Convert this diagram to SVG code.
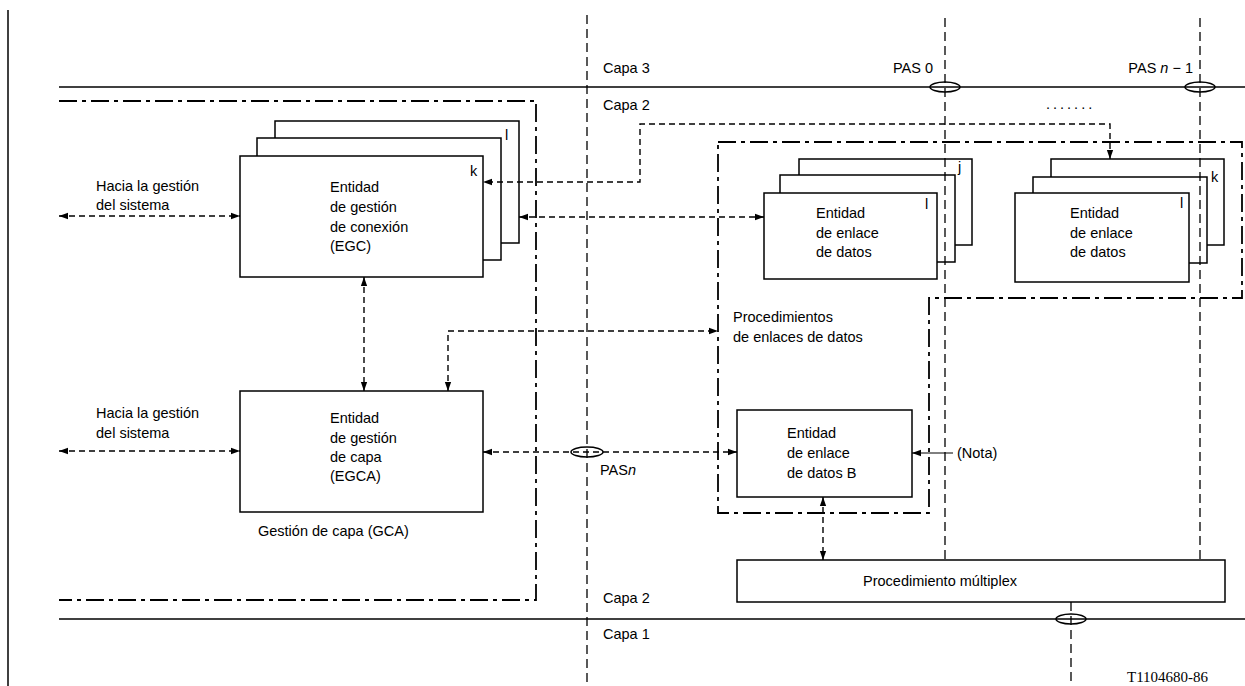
<svg xmlns="http://www.w3.org/2000/svg" width="1245" height="686" viewBox="0 0 1245 686">
<defs>
<marker id="ah" viewBox="0 0 10 10" refX="10" refY="5" markerWidth="9" markerHeight="9" markerUnits="userSpaceOnUse" orient="auto-start-reverse"><path d="M0,1.5 L10,5 L0,8.5 z" fill="#000"/></marker>
<style>
.t{font-family:"Liberation Sans",Arial,sans-serif;font-size:14.5px;fill:#000}
.box{fill:#fff;stroke:#000;stroke-width:1.5}
.solid{stroke:#000;stroke-width:1.5;fill:none}
.dash{stroke:#000;stroke-width:1.3;fill:none;stroke-dasharray:9 5}
.conn{stroke:#000;stroke-width:1.4;fill:none;stroke-dasharray:6 4}
.dd{stroke:#000;stroke-width:1.8;fill:none;stroke-dasharray:18 5 4 5}
.ell{fill:none;stroke:#000;stroke-width:1.5}
</style>
</defs>
<rect width="1245" height="686" fill="#fff"/>

<g id="layers">
<line x1="8" y1="10" x2="8" y2="686" class="solid"/>
<line x1="59" y1="87" x2="1245" y2="87" class="solid"/>
<line x1="59" y1="619" x2="1245" y2="619" class="solid"/>
<text class="t" x="603" y="73">Capa 3</text>
<text class="t" x="603" y="110">Capa 2</text>
<text class="t" x="603" y="603">Capa 2</text>
<text class="t" x="603" y="639">Capa 1</text>
<text class="t" x="933" y="73" text-anchor="end">PAS 0</text>
<text class="t" x="1193" y="73" text-anchor="end">PAS <tspan font-style="italic">n</tspan> − 1</text>
<text class="t" x="1046" y="109" letter-spacing="3">.......</text>
<text x="1127" y="682" style="font-family:'Liberation Serif','Times New Roman',serif;font-size:15px">T1104680-86</text>
</g>

<g id="gca">
<path d="M59,101 H536 V600 H59" class="dd"/>
<text class="t" x="258" y="536">Gestión de capa (GCA)</text>
</g>

<g id="procedimientos">
<path d="M718,142 H1242 V298 H929 V513 H718 Z" class="dd"/>
<text class="t" x="733" y="322">Procedimientos</text>
<text class="t" x="733" y="342">de enlaces de datos</text>
</g>

<g id="egc">
<rect class="box" x="275" y="121" width="244" height="122"/>
<rect class="box" x="257" y="138" width="244" height="122"/>
<rect class="box" x="240" y="156" width="243" height="121"/>
<text class="t" x="505" y="140">l</text>
<text class="t" x="470" y="176">k</text>
<text class="t" x="330" y="192">Entidad</text>
<text class="t" x="330" y="212">de gestión</text>
<text class="t" x="330" y="232">de conexión</text>
<text class="t" x="330" y="251">(EGC)</text>
</g>

<g id="egca">
<rect class="box" x="240" y="391" width="243" height="121"/>
<text class="t" x="330" y="423">Entidad</text>
<text class="t" x="330" y="443">de gestión</text>
<text class="t" x="330" y="462">de capa</text>
<text class="t" x="330" y="481">(EGCA)</text>
</g>

<g id="sys1">
<text class="t" x="96" y="191">Hacia la gestión</text>
<text class="t" x="96" y="210">del sistema</text>
</g>
<g id="sys2">
<text class="t" x="96" y="418">Hacia la gestión</text>
<text class="t" x="96" y="438">del sistema</text>
</g>

<g id="dle1">
<rect class="box" x="799" y="159" width="173" height="86"/>
<rect class="box" x="780" y="175" width="175" height="87"/>
<rect class="box" x="764" y="193" width="173" height="86"/>
<text class="t" x="958" y="172">j</text>
<text class="t" x="925" y="209">l</text>
<text class="t" x="816" y="218">Entidad</text>
<text class="t" x="816" y="238">de enlace</text>
<text class="t" x="816" y="257">de datos</text>
</g>

<g id="dle2">
<rect class="box" x="1051" y="159" width="173" height="86"/>
<rect class="box" x="1033" y="177" width="174" height="86"/>
<rect class="box" x="1015" y="193" width="174" height="89"/>
<text class="t" x="1211" y="182">k</text>
<text class="t" x="1180" y="208">l</text>
<text class="t" x="1070" y="218">Entidad</text>
<text class="t" x="1070" y="238">de enlace</text>
<text class="t" x="1070" y="257">de datos</text>
</g>

<g id="dleB">
<rect class="box" x="737" y="410" width="175" height="87"/>
<text class="t" x="787" y="438">Entidad</text>
<text class="t" x="787" y="458">de enlace</text>
<text class="t" x="787" y="478">de datos B</text>
</g>

<g id="multiplex">
<rect class="box" x="737" y="560" width="488" height="42"/>
<text class="t" x="940" y="586" text-anchor="middle">Procedimiento múltiplex</text>
</g>

<g id="pas-lines">
<line x1="587" y1="15" x2="587" y2="686" class="dash"/>
<line x1="945" y1="18" x2="945" y2="560" class="dash"/>
<line x1="1200" y1="18" x2="1200" y2="560" class="dash"/>
<line x1="1071" y1="602" x2="1071" y2="686" class="dash"/>
<ellipse class="ell" cx="945" cy="87" rx="15" ry="5"/>
<ellipse class="ell" cx="1200" cy="87" rx="15" ry="5"/>
<ellipse class="ell" cx="1071" cy="619" rx="15" ry="5"/>
<ellipse class="ell" cx="587" cy="452" rx="16" ry="5"/>
<text class="t" x="600" y="475">PAS<tspan font-style="italic">n</tspan></text>
</g>

<g id="connectors">
<line x1="59" y1="216" x2="240" y2="216" class="conn" marker-start="url(#ah)" marker-end="url(#ah)"/>
<line x1="59" y1="451" x2="240" y2="451" class="conn" marker-start="url(#ah)" marker-end="url(#ah)"/>
<line x1="364" y1="277" x2="364" y2="391" class="conn" marker-start="url(#ah)" marker-end="url(#ah)"/>
<path d="M1110,159 V124 H640 V182 H483" class="conn" marker-start="url(#ah)" marker-end="url(#ah)"/>
<line x1="519" y1="217" x2="764" y2="217" class="conn" marker-start="url(#ah)" marker-end="url(#ah)"/>
<path d="M448,391 V331 H718" class="conn" marker-start="url(#ah)" marker-end="url(#ah)"/>
<line x1="483" y1="452" x2="737" y2="452" class="conn" marker-start="url(#ah)" marker-end="url(#ah)"/>
<line x1="823" y1="497" x2="823" y2="560" class="conn" marker-start="url(#ah)" marker-end="url(#ah)"/>
<line x1="953" y1="453" x2="912" y2="453" stroke="#000" stroke-width="1" marker-end="url(#ah)"/>
<text class="t" x="957" y="458">(Nota)</text>
</g>
</svg>
